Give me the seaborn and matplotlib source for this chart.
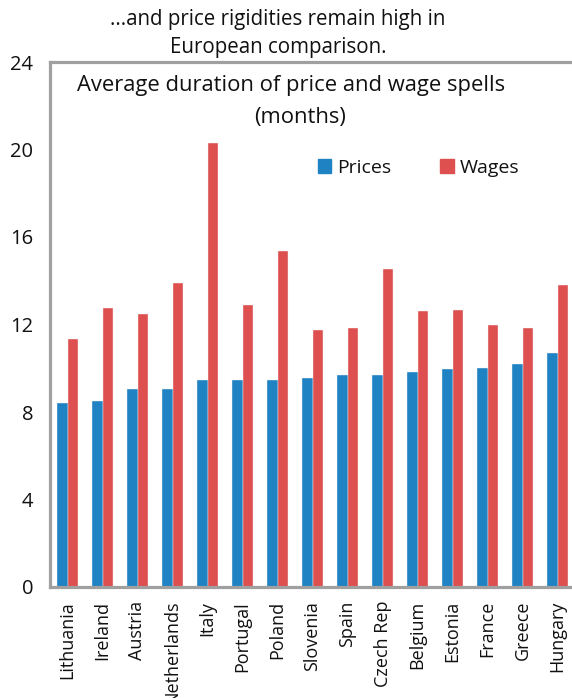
import numpy as np
import pandas as pd
import matplotlib
matplotlib.use("Agg")
import matplotlib.pyplot as plt
import seaborn as sns

countries = ["Lithuania", "Ireland", "Austria", "Netherlands", "Italy", "Portugal",
             "Poland", "Slovenia", "Spain", "Czech Rep", "Belgium", "Estonia",
             "France", "Greece", "Hungary"]
prices = [8.4, 8.5, 9.05, 9.05, 9.45, 9.45, 9.45, 9.55, 9.7, 9.7, 9.85, 9.95, 10.0, 10.2, 10.7]
wages = [11.35, 12.75, 12.5, 13.9, 20.3, 12.9, 15.35, 11.75, 11.85, 14.55, 12.6, 12.65, 12.0, 11.85, 13.8]
yticks = [0, 4, 8, 12, 16, 20, 24]

series_names = ["Prices", "Wages"]
colors = {"Prices": "#1F82C2", "Wages": "#DE4F4F"}

df = pd.DataFrame({
    "country": countries * 2,
    "value": prices + wages,
    "series": ["Prices"] * len(countries) + ["Wages"] * len(countries),
})

sns.set_theme(style="white")
plt.rcParams["font.family"] = ["Open Sans", "DejaVu Sans"]

W, H = 572, 698
fig = plt.figure(figsize=(W / 100, H / 100), dpi=100)
left, right, top, bottom = 50, 575, 62, 587
ax = fig.add_axes([left / W, (H - bottom) / H, (right - left) / W, (bottom - top) / H])

sns.barplot(data=df, x="country", y="value", hue="series", hue_order=series_names,
            palette=colors, width=0.6, saturation=1, edgecolor="#f4f4f4",
            linewidth=0.3, ax=ax, legend=False)

ax.set_xlim(-0.5, 14.5)
ax.set_ylim(0, 24)
ax.set_yticks(yticks)
ax.set_yticklabels([str(v) for v in yticks])
ax.set_xlabel("")
ax.set_ylabel("")

gray = "#A0A0A0"
for s in ["left", "top", "bottom"]:
    ax.spines[s].set_color(gray)
    ax.spines[s].set_linewidth(2.3)
ax.spines["right"].set_visible(False)

txt = "#111111"
ax.tick_params(axis="y", direction="in", length=4, width=1.6, color=gray,
               labelsize=14.5, pad=12, labelcolor=txt)
ax.tick_params(axis="x", which="major", length=0, labelsize=13, pad=10,
               labelrotation=90, labelcolor=txt)
for lab in ax.get_xticklabels():
    lab.set_verticalalignment("top")
ax.set_xticks(np.arange(0.5, 14, 1), minor=True)
ax.tick_params(axis="x", which="minor", direction="in", length=5, width=2.2, color=gray)

# titles
fig.text(278 / W, 1 - 19 / H, "...and price rigidities remain high in", ha="center",
         va="center", fontsize=14.8, color=txt)
fig.text(278 / W, 1 - 47 / H, "European comparison.", ha="center", va="center",
         fontsize=14.8, color=txt)
fig.text(291 / W, 1 - 86 / H, "Average duration of price and wage spells", ha="center",
         va="center", fontsize=15.8, color=txt)
fig.text(300 / W, 1 - 118 / H, "(months)", ha="center", va="center",
         fontsize=15.8, color=txt)

handles = [plt.Rectangle((0, 0), 1, 1, color=colors[s]) for s in series_names]
ax.legend(handles, series_names, ncol=2, frameon=False, loc="center left",
          bbox_to_anchor=(0.51, 0.798), fontsize=14, handlelength=0.7,
          handleheight=0.7, handletextpad=0.3, columnspacing=2.5, borderpad=0,
          borderaxespad=0, labelcolor=txt)

fig.savefig("out.png", dpi=100)
